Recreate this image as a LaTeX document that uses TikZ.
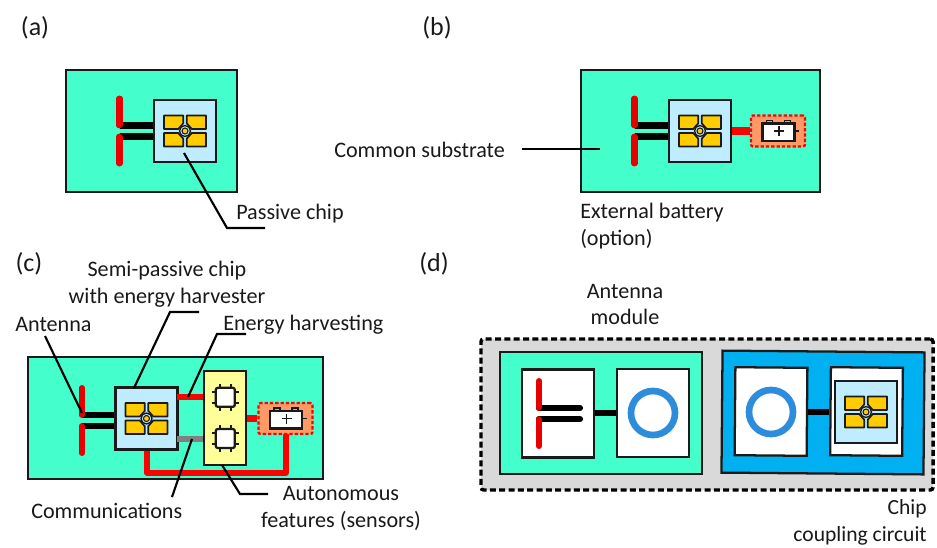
\documentclass[tikz,border=0pt]{standalone}
\usepackage{fontspec}
\setmainfont{Carlito}
\usetikzlibrary{calc}

\definecolor{subgreen}{HTML}{44FFCC}
\definecolor{chipblue}{HTML}{BFEDFF}
\definecolor{padgold}{HTML}{FFCC00}
\definecolor{antred}{HTML}{E60000}
\definecolor{batorange}{HTML}{FF9966}
\definecolor{sensyellow}{HTML}{FFFF99}
\definecolor{framegray}{HTML}{D9D9D9}
\definecolor{subblue}{HTML}{00B0F0}
\definecolor{ringblue}{HTML}{2E8CDC}
\definecolor{inkdark}{HTML}{1A1A1A}

\def\px{0.75pt}

\tikzset{
    lbl/.style={font=\fontsize{16.6}{20}\selectfont, inner sep=0pt, text=black!90},
    tag/.style={font=\fontsize{19.5}{22}\selectfont, inner sep=0pt, text=black!90},
    panel/.style={draw=inkdark, line width=1.7pt, inner sep=0pt},
    whitebox/.style={panel, fill=white, minimum width=72*\px, minimum height=88*\px},
    chipbox/.style={panel, fill=chipblue, minimum size=62*\px},
    chippad/.style={draw=inkdark, fill=padgold, line width=1.3pt, line join=round},
    antbar/.style={antred, line width=5pt, line cap=round},
    stub/.style={black, line width=5pt},
    redlink/.style={red, line width=5.5pt},
    leader/.style={black, line width=1.6pt},
    chip/.pic={
        \node[chipbox] (-box) at (0,0) {};
        \foreach \sx/\sy in {1/1,-1/1,1/-1,-1/-1}
            \draw[chippad, xscale=\sx, yscale=\sy] (-21,-15.5) -- (-1.7,-15.5) -- (-1.7,-7.7) -- (-6.7,-2) -- (-21,-2) -- cycle;
        \draw[draw=inkdark, fill=chipblue, line width=1pt] (0,0) circle (5.5);
        \draw[draw=inkdark, fill=padgold, line width=0.8pt] (0,0) circle (3);
    },
    antenna/.pic={
        \coordinate (-s1) at (0,-5.5);
        \coordinate (-s2) at (0,5.5);
        \draw[antbar] (0,-32) -- (0,-6);
        \draw[antbar] (0,6) -- (0,32);
    },
    battery/.pic={
        \node[draw=red, fill=batorange, dash pattern=on 2.5pt off 1.5pt, line width=1.7pt, rounded corners=1.5pt, minimum width=54*\px, minimum height=31*\px, inner sep=0pt] (-box) at (0,0) {};
        \draw[inkdark, line width=1.2pt, fill=batorange] (-11.5,-7) rectangle (-5.5,-10.5);
        \draw[inkdark, line width=1.2pt, fill=batorange] (6.5,-7) rectangle (12.5,-10.5);
        \draw[inkdark, line width=1.7pt, fill=white] (-15.5,-7.5) rectangle (16.5,10);
        \draw[inkdark, line width=1pt] (-4,0) -- (6,0) (1,-5) -- (1,5);
        \draw[inkdark, line width=0.8pt] (16.5,0) -- (21,0);
    },
    sensor/.pic={
        \foreach \t in {-5.5,5.5} {
            \draw[inkdark, line width=1.3pt] (\t,-13.5) -- (\t,13.5);
            \draw[inkdark, line width=1.3pt] (-13.5,\t) -- (13.5,\t);
        }
        \draw[inkdark, fill=white, line width=1.7pt, rounded corners=1.5pt] (-9.5,-9.5) rectangle (9.5,9.5);
    },
    ringant/.pic={
        \draw[ringblue, line width=5pt] (0,0) circle (22);
    }
}

\begin{document}
\begin{tikzpicture}[x=0.75pt, y=-0.75pt]
    \useasboundingbox (0,0) rectangle (937,547);

    % Panel labels
    \node[tag] (tagA) at (35,28) {(a)};
    \node[tag] (tagB) at (437,28) {(b)};
    \node[tag] (tagC) at (29,264) {(c)};
    \node[tag] (tagD) at (434,264) {(d)};

    % (a) passive
    \node[panel, fill=subgreen, minimum width=171*\px, minimum height=122*\px] (subA) at (151.5,131) {};
    \pic (antA) at (119.5,131) {antenna};
    \pic (chipA) at (185,131) {chip};
    \draw[stub] (antA-s1) -- (antA-s1 -| chipA-box.west);
    \draw[stub] (antA-s2) -- (antA-s2 -| chipA-box.west);
    \pic at (119.5,131) {antenna};

    \node[lbl, anchor=west] (lblPassive) at (236,213.5) {Passive chip};
    \coordinate (passiveTip) at (184,153);
    \coordinate (passiveKnee) at (227,228);
    \coordinate (passiveEnd) at (265,228);
    \draw[leader] (passiveTip) -- (passiveKnee) -- (passiveEnd);

    % (b) with battery
    \node[panel, fill=subgreen, minimum width=239*\px, minimum height=122*\px] (subB) at (700.5,131) {};
    \pic (antB) at (634.5,131) {antenna};
    \pic (chipB) at (700,131) {chip};
    \draw[stub] (antB-s1) -- (antB-s1 -| chipB-box.west);
    \draw[stub] (antB-s2) -- (antB-s2 -| chipB-box.west);
    \pic at (634.5,131) {antenna};
    \pic (batB) at (778,131) {battery};
    \draw[redlink] (chipB-box.east) -- (batB-box.west);

    \node[lbl, anchor=west] (lblCommon) at (334,150) {Common substrate};
    \coordinate (commonStart) at (522,149);
    \coordinate (commonEnd) at (600,149);
    \draw[leader] (commonStart) -- (commonEnd);
    \node[lbl, anchor=west, align=left] (lblBattery) at (580,226) {External battery\\(option)};

    % (c) semi-passive
    \node[panel, fill=subgreen, minimum width=295*\px, minimum height=122*\px] (subC) at (175.5,418) {};
    \coordinate (busLeft) at (147,473);
    \coordinate (busRight) at (286,473);
    \draw[red, line width=3.8pt, line join=round] (147,440) -- (busLeft) -- (busRight) -- (286,425);
    \pic (antC) at (82,420.5) {antenna};
    \pic (chipC) at (146.5,418.5) {chip};
    \draw[stub] (antC-s1) -- (antC-s1 -| chipC-box.west);
    \draw[stub] (antC-s2) -- (antC-s2 -| chipC-box.west);
    \pic at (82,420.5) {antenna};
    \node[panel, fill=sensyellow, minimum width=42*\px, minimum height=94*\px] (sens) at (225,418) {};
    \coordinate (linkTop) at (177,397);
    \coordinate (linkBot) at (177,439);
    \draw[red, line width=4.6pt] (linkTop) -- (linkTop -| sens.west);
    \draw[gray, line width=4.6pt] (linkBot) -- (linkBot -| sens.west);
    \pic at (225.3,397.3) {sensor};
    \pic at (225.3,438.5) {sensor};
    \pic (batC) at (285.5,418.5) {battery};
    \draw[redlink] (sens.east |- batC-box.west) -- (batC-box.west);

    \node[lbl, align=center] (lblSemi) at (167,284) {Semi-passive chip\\with energy harvester};
    \node[lbl, anchor=west] (lblAnt) at (15,324) {Antenna};
    \node[lbl, anchor=west] (lblEnergy) at (223,325) {Energy harvesting};
    \node[lbl, anchor=west] (lblComm) at (31,511) {Communications};
    \node[lbl, align=center] (lblAuto) at (341,508.5) {Autonomous\\features (sensors)};

    \coordinate (antTip) at (82,413);
    \coordinate (antEnd) at (45,336);
    \draw[leader] (antEnd) -- (antTip);
    \coordinate (semiKnee) at (170,312);
    \coordinate (semiEnd) at (199,312);
    \draw[leader] (134,388) -- (semiKnee) -- (semiEnd);
    \coordinate (energyKnee) at (217,334);
    \coordinate (energyEnd) at (246,334);
    \draw[leader] (188,397) -- (energyKnee) -- (energyEnd);
    \coordinate (commEnd) at (172,497);
    \draw[leader] (192,439) -- (commEnd);
    \coordinate (autoKnee) at (240,494);
    \coordinate (autoEnd) at (268,494);
    \draw[leader] (222,465) -- (autoKnee) -- (autoEnd);

    % (d) module
    \node[draw=black, fill=framegray, dash pattern=on 4.5pt off 2.5pt, line width=2.6pt, rounded corners=2pt, minimum width=452*\px, minimum height=151*\px, inner sep=0pt] (frameD) at (707,414.5) {};
    \node[panel, fill=subgreen, minimum width=202*\px, minimum height=122*\px] (subD) at (601,413) {};
    \node[whitebox] (boxAnt) at (558,413.5) {};
    \node[whitebox] (boxRingL) at (653,413) {};
    \pic (antD) at (539,413.5) {antenna};
    \coordinate (stubA) at (580,408);
    \coordinate (stubB) at (580,419);
    \draw[black, line width=4.6pt, line cap=round] (539,408) -- (stubA);
    \draw[black, line width=4.6pt, line cap=round] (539,419) -- (stubB);
    \pic at (539,413.5) {antenna};
    \pic at (653,413) {ringant};
    \draw[stub] (boxAnt.east |- boxRingL.center) -- (boxRingL.west);

    \node[panel, fill=subblue, rotate=-0.5, minimum width=202*\px, minimum height=122*\px] (subE) at (823,412.5) {};
    \node[whitebox, rotate=-0.5] (boxRingR) at (771,411.5) {};
    \node[whitebox, rotate=-0.5] (boxChip) at (866.5,411.5) {};
    \pic at (771,412) {ringant};
    \pic at (866,412) {chip};
    \coordinate (linkE) at (boxRingR.east);
    \draw[stub] (linkE) -- (linkE -| boxChip.west);

    \node[lbl, align=center] (lblModule) at (625,304.5) {Antenna\\module};
    \node[lbl, font=\fontsize{16.2}{20}\selectfont, align=right, anchor=east] (lblCoupling) at (927,522.5) {Chip\\coupling circuit};
\end{tikzpicture}
\end{document}
